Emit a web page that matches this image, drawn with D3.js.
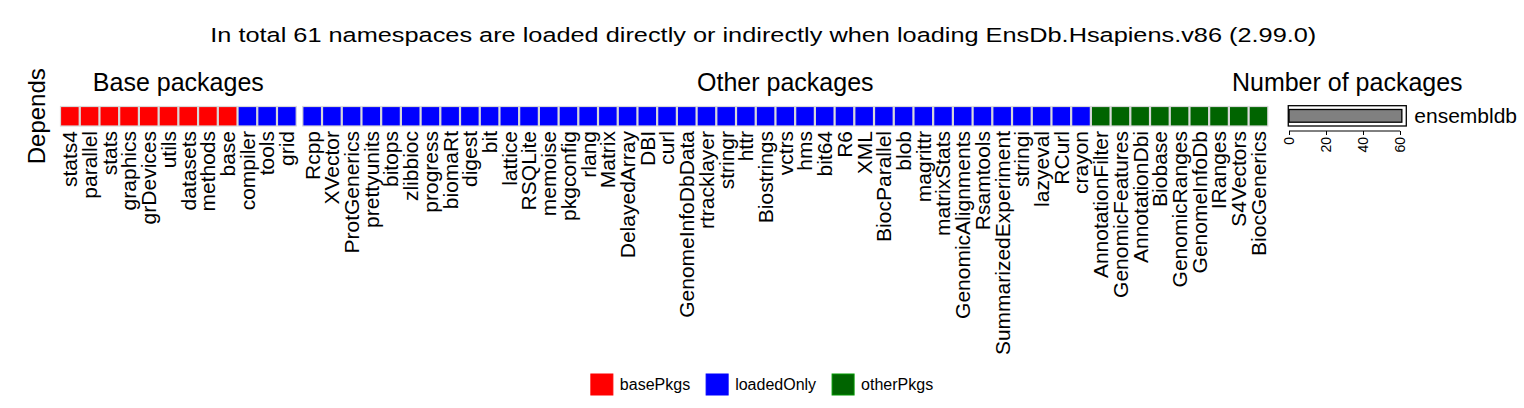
<!DOCTYPE html>
<html>
<head>
<meta charset="utf-8">
<script src="https://cdn.jsdelivr.net/npm/d3@7"></script>
<style>
  html, body { margin: 0; padding: 0; background: #fff; }
  svg { display: block; font-family: "Liberation Sans", Arial, Helvetica, sans-serif; }
</style>
</head>
<body>
<svg id="chart" width="1524" height="408"></svg>
<script>
// ---------------- data ----------------
const titleText = "In total 61 namespaces are loaded directly or indirectly when loading EnsDb.Hsapiens.v86 (2.99.0)";
const rowLabel = "Depends";
const groupTitles = ["Base packages", "Other packages", "Number of packages"];

const basePkgs = ["stats4", "parallel", "stats", "graphics", "grDevices", "utils", "datasets", "methods", "base"];
const baseLoadedOnly = ["compiler", "tools", "grid"];
const otherLoadedOnly = ["Rcpp", "XVector", "ProtGenerics", "prettyunits", "bitops", "zlibbioc", "progress", "biomaRt",
  "digest", "bit", "lattice", "RSQLite", "memoise", "pkgconfig", "rlang", "Matrix", "DelayedArray", "DBI", "curl",
  "GenomeInfoDbData", "rtracklayer", "stringr", "httr", "Biostrings", "vctrs", "hms", "bit64", "R6", "XML",
  "BiocParallel", "blob", "magrittr", "matrixStats", "GenomicAlignments", "Rsamtools", "SummarizedExperiment",
  "stringi", "lazyeval", "RCurl", "crayon"];
const otherPkgs = ["AnnotationFilter", "GenomicFeatures", "AnnotationDbi", "Biobase", "GenomicRanges",
  "GenomeInfoDb", "IRanges", "S4Vectors", "BiocGenerics"];

const barCategories = ["ensembldb"];
const barValues = [61];
const barTicks = [0, 20, 40, 60];

const legendKeys = ["basePkgs", "loadedOnly", "otherPkgs"];
const legendColors = ["#FF0000", "#0000FF", "#006400"];

// ---------------- build ----------------
const color = d3.scaleOrdinal().domain(legendKeys).range(legendColors);

const baseCells = basePkgs.map(n => ({ name: n, type: "basePkgs" }))
  .concat(baseLoadedOnly.map(n => ({ name: n, type: "loadedOnly" })));
const otherCells = otherLoadedOnly.map(n => ({ name: n, type: "loadedOnly" }))
  .concat(otherPkgs.map(n => ({ name: n, type: "otherPkgs" })));

const svg = d3.select("#chart");

const cellTop = 106.5, cellH = 19.5;
const xBase = d3.scaleBand().domain(baseCells.map(d => d.name)).range([60, 296.7]);
const xOther = d3.scaleBand().domain(otherCells.map(d => d.name)).range([302.3, 1268.3]);

// title (slightly wide lettering as in the reference)
svg.append("text")
  .attr("x", 763.3).attr("y", 42)
  .attr("text-anchor", "middle")
  .attr("font-size", 20.5)
  .attr("textLength", 1106)
  .attr("lengthAdjust", "spacingAndGlyphs")
  .text(titleText);

// row label
svg.append("text")
  .attr("transform", `translate(37,${cellTop + cellH / 2}) rotate(-90)`)
  .attr("text-anchor", "middle")
  .attr("dy", "0.35em")
  .attr("font-size", 24)
  .text(rowLabel);

function drawBlock(cells, x, title) {
  const g = svg.append("g");
  g.selectAll("rect").data(cells).join("rect")
    .attr("x", d => x(d.name) + 0.5)
    .attr("y", cellTop)
    .attr("width", x.bandwidth() - 1)
    .attr("height", cellH)
    .attr("fill", d => color(d.type))
    .attr("stroke", "#d8d8d8")
    .attr("stroke-width", 1.2);
  g.selectAll("text.lab").data(cells).join("text")
    .attr("class", "lab")
    .attr("transform", d => `translate(${x(d.name) + x.bandwidth() / 2},${cellTop + cellH + 5}) rotate(-90)`)
    .attr("text-anchor", "end")
    .attr("dy", "0.35em")
    .attr("font-size", 21)
    .text(d => d.name);
  const r = x.range();
  g.append("text")
    .attr("x", (r[0] + r[1]) / 2).attr("y", 91)
    .attr("text-anchor", "middle")
    .attr("font-size", 25)
    .text(title);
}
drawBlock(baseCells, xBase, groupTitles[0]);
drawBlock(otherCells, xOther, groupTitles[1]);

// bar chart
const xBar = d3.scaleLinear().domain([0, 60]).range([1289, 1400]);
const yBar = d3.scaleBand().domain(barCategories).range([105.7, 126]).padding(0.23);
const gb = svg.append("g");
const boxL = xBar(-0.4), boxR = xBar(63.4);
gb.append("rect")
  .attr("x", boxL).attr("y", yBar.range()[0])
  .attr("width", boxR - boxL).attr("height", yBar.range()[1] - yBar.range()[0])
  .attr("fill", "none").attr("stroke", "#000").attr("stroke-width", 1.3);
gb.selectAll("rect.bar").data(barCategories).join("rect")
  .attr("class", "bar")
  .attr("x", xBar(0)).attr("y", d => yBar(d))
  .attr("width", (d, i) => xBar(barValues[i]) - xBar(0))
  .attr("height", yBar.bandwidth())
  .attr("fill", "#808080").attr("stroke", "#000").attr("stroke-width", 1.3);
gb.selectAll("text.cat").data(barCategories).join("text")
  .attr("class", "cat")
  .attr("x", boxR + 8).attr("y", d => yBar(d) + yBar.bandwidth() / 2)
  .attr("dy", "0.35em")
  .attr("font-size", 21)
  .text(d => d);
gb.append("text")
  .attr("x", (boxL + boxR) / 2).attr("y", 91)
  .attr("text-anchor", "middle")
  .attr("font-size", 25)
  .text(groupTitles[2]);

const axis = d3.axisBottom(xBar).tickValues(barTicks).tickSize(4).tickSizeOuter(0);
const ga = gb.append("g").attr("transform", "translate(0,131)").call(axis);
ga.select(".domain").remove();
ga.append("line")
  .attr("x1", xBar(barTicks[0])).attr("x2", xBar(barTicks[barTicks.length - 1]))
  .attr("stroke", "#000").attr("stroke-width", 1);
ga.selectAll(".tick line").attr("stroke", "#000");
ga.selectAll(".tick text")
  .attr("font-family", "Liberation Sans, Arial, sans-serif")
  .attr("font-size", 14)
  .attr("fill", "#000")
  .attr("transform", "rotate(-90)")
  .attr("text-anchor", "end")
  .attr("x", -6).attr("y", 0).attr("dy", "0.35em");

// legend
const lg = svg.append("g");
const items = lg.selectAll("g").data(legendKeys).join("g");
items.append("rect")
  .attr("width", 22).attr("height", 21)
  .attr("y", 374)
  .attr("fill", d => color(d))
  .attr("stroke", d => d3.color(color(d)).brighter(1.2))
  .attr("stroke-width", 1);
items.append("text")
  .attr("x", 29).attr("y", 384.5).attr("dy", "0.35em")
  .attr("font-size", 16)
  .text(d => d);
const widths = [];
items.each(function () { widths.push(this.getBBox().width); });
const gap = 16;
const total = d3.sum(widths) + gap * (widths.length - 1);
let offs = 762 - total / 2;
items.attr("transform", (d, i) => {
  const t = `translate(${offs},0)`;
  offs += widths[i] + gap;
  return t;
});
</script>
</body>
</html>
